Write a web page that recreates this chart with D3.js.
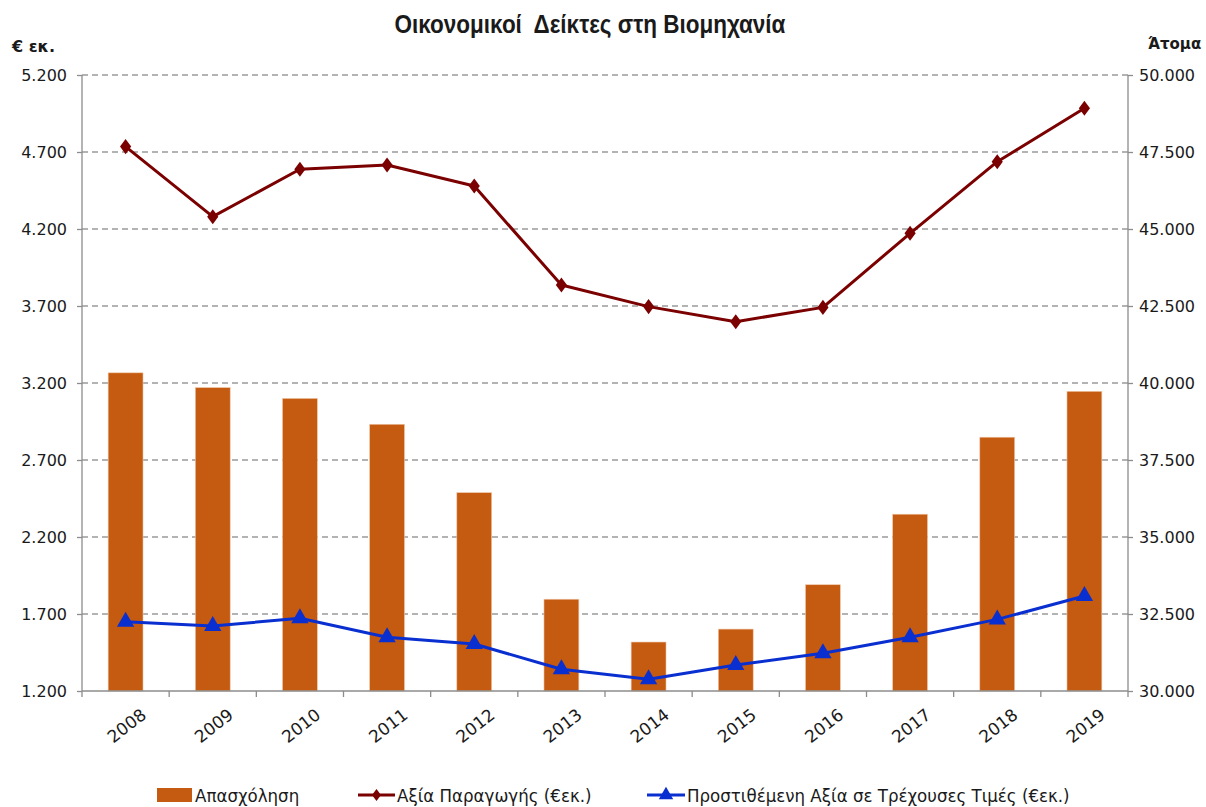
<!DOCTYPE html>
<html>
<head>
<meta charset="utf-8">
<script src="https://cdn.jsdelivr.net/npm/d3@7"></script>
<style>
  body { margin: 0; background: #fff; }
  text { fill: #1a1a1a; }
</style>
</head>
<body>
<script>
var years = ["2008","2009","2010","2011","2012","2013","2014","2015","2016","2017","2018","2019"];
// Απασχόληση (άτομα, δεξής άξονας)
var employment = [40330, 39850, 39500, 38660, 36440, 32980, 31590, 32010, 33450, 35740, 38240, 39730];
// Αξία Παραγωγής (€ εκ.)
var production = [4735, 4280, 4588, 4616, 4479, 3836, 3696, 3598, 3691, 4172, 4637, 4984];
// Προστιθέμενη Αξία σε Τρέχουσες Τιμές (€ εκ.)
var addedValue = [1650, 1622, 1672, 1549, 1505, 1341, 1276, 1369, 1445, 1549, 1665, 1817];

var leftTicks = [1200, 1700, 2200, 2700, 3200, 3700, 4200, 4700, 5200];
var rightTicks = [30000, 32500, 35000, 37500, 40000, 42500, 45000, 47500, 50000];

var width = 1206, height = 807;
var margin = {top: 75, right: 78, bottom: 116, left: 82};
var w = width - margin.left - margin.right;
var h = height - margin.top - margin.bottom;

var fmt = d3.formatLocale({decimal: ",", thousands: ".", grouping: [3], currency: ["€", ""]}).format(",.0f");
var tickFont = "'DejaVu Sans', Verdana, sans-serif";

var svg = d3.select("body").append("svg").attr("width", width).attr("height", height);

var g = svg.append("g").attr("transform", "translate(" + margin.left + "," + margin.top + ")");

var x = d3.scaleBand().domain(years).range([0, w]).paddingInner(0.6).paddingOuter(0.3);
var yL = d3.scaleLinear().domain([1200, 5200]).range([h, 0]);
var yR = d3.scaleLinear().domain([30000, 50000]).range([h, 0]);

// gridlines
g.append("g")
  .selectAll("line")
  .data(leftTicks.slice(1))
  .enter().append("line")
    .attr("x1", 0).attr("x2", w)
    .attr("y1", d => yL(d)).attr("y2", d => yL(d))
    .attr("stroke", "#9a9a9a")
    .attr("stroke-width", 1.3)
    .attr("stroke-dasharray", "6,4");

// bars
g.append("g")
  .selectAll("rect")
  .data(employment)
  .enter().append("rect")
    .attr("x", (d, i) => x(years[i]))
    .attr("width", x.bandwidth())
    .attr("y", d => yR(d))
    .attr("height", d => h - yR(d))
    .attr("fill", "#c55a11")
    .attr("stroke", "#f0c8a8")
    .attr("stroke-width", 0.6);

// axes
var axisColor = "#8c8c8c";
var leftAxis = g.append("g")
  .call(d3.axisLeft(yL).tickValues(leftTicks).tickFormat(fmt).tickSize(5).tickPadding(10));
var rightAxis = g.append("g").attr("transform", "translate(" + w + ",0)")
  .call(d3.axisRight(yR).tickValues(rightTicks).tickFormat(fmt).tickSize(5).tickPadding(6));
var step = x.step();
var boundaries = d3.range(years.length + 1);
var bottomAxis = g.append("g").attr("transform", "translate(0," + h + ")");
bottomAxis.append("line").attr("x1", 0).attr("x2", w).attr("stroke", axisColor).attr("stroke-width", 1.3);
bottomAxis.selectAll(".tk").data(boundaries).enter().append("line")
  .attr("x1", d => d * step).attr("x2", d => d * step)
  .attr("y1", 0).attr("y2", 6)
  .attr("stroke", axisColor).attr("stroke-width", 1.3);
bottomAxis.selectAll("text").data(years).enter().append("text")
  .attr("transform", d => "translate(" + (x(d) + x.bandwidth() / 2 + 14) + ",16) rotate(-38)")
  .attr("text-anchor", "end")
  .attr("dy", "0.75em")
  .style("font-family", tickFont)
  .style("font-size", "17px")
  .text(d => d);

[leftAxis, rightAxis].forEach(function(a) {
  a.select(".domain").attr("stroke", axisColor).attr("stroke-width", 1.3);
  a.selectAll(".tick line").attr("stroke", axisColor).attr("stroke-width", 1.3);
  a.selectAll(".tick text")
    .style("font-family", tickFont)
    .style("font-size", "16px")
    .attr("fill", "#1a1a1a");
});
leftAxis.select(".domain").attr("d", "M0," + h + "V0");
rightAxis.select(".domain").attr("d", "M0," + h + "V0");

// lines
var cx = (d, i) => x(years[i]) + x.bandwidth() / 2;

var prodLine = d3.line().x(cx).y(d => yL(d));
g.append("path")
  .datum(production)
  .attr("fill", "none")
  .attr("stroke", "#7b0000")
  .attr("stroke-width", 3)
  .attr("stroke-linejoin", "round")
  .attr("d", prodLine);
g.append("g")
  .selectAll("path")
  .data(production)
  .enter().append("path")
    .attr("d", d3.symbol().type(d3.symbolDiamond2).size(110))
    .attr("transform", (d, i) => "translate(" + cx(d, i) + "," + yL(d) + ") scale(0.85,1.15)")
    .attr("fill", "#7b0000");

var addLine = d3.line().x(cx).y(d => yL(d));
g.append("path")
  .datum(addedValue)
  .attr("fill", "none")
  .attr("stroke", "#0a2fd0")
  .attr("stroke-width", 3)
  .attr("stroke-linejoin", "round")
  .attr("d", addLine);
g.append("g")
  .selectAll("path")
  .data(addedValue)
  .enter().append("path")
    .attr("transform", (d, i) => "translate(" + cx(d, i) + "," + yL(d) + ")")
    .attr("d", d3.symbol().type(d3.symbolTriangle).size(130))
    .attr("fill", "#0a2fd0");

// titles
svg.append("text")
  .attr("transform", "translate(590,33) scale(0.9,1)")
  .attr("text-anchor", "middle")
  .style("font-family", "'Liberation Sans', Arial, sans-serif")
  .style("font-weight", "bold")
  .style("font-size", "25px")
  .style("white-space", "pre")
  .text("Οικονομικοί  Δείκτες στη Βιομηχανία");

svg.append("text")
  .attr("x", 12).attr("y", 52)
  .style("font-family", tickFont)
  .style("font-weight", "bold")
  .style("font-size", "16px")
  .text("€ εκ.");

svg.append("text")
  .attr("x", 1148).attr("y", 49)
  .style("font-family", tickFont)
  .style("font-weight", "bold")
  .style("font-size", "15px")
  .text("Άτομα");

// legend
var legend = svg.append("g").attr("transform", "translate(0,795)");
var lf = "'DejaVu Sans Condensed', 'DejaVu Sans', sans-serif";
var lsize = "18.5px";
legend.append("rect").attr("x", 157).attr("y", -7).attr("width", 35).attr("height", 14).attr("fill", "#c55a11");
legend.append("text").attr("x", 195).attr("y", 7).style("font-family", lf).style("font-size", lsize).text("Απασχόληση");

legend.append("line").attr("x1", 358).attr("x2", 395).attr("y1", 0).attr("y2", 0).attr("stroke", "#7b0000").attr("stroke-width", 3);
legend.append("path").attr("transform", "translate(376.5,0) scale(0.85,1.15)")
  .attr("d", d3.symbol().type(d3.symbolDiamond2).size(70)).attr("fill", "#7b0000");
legend.append("text").attr("x", 397).attr("y", 7).style("font-family", lf).style("font-size", lsize).text("Αξία Παραγωγής (€εκ.)");

legend.append("line").attr("x1", 647).attr("x2", 685).attr("y1", 0).attr("y2", 0).attr("stroke", "#0a2fd0").attr("stroke-width", 3);
legend.append("path").attr("transform", "translate(666,0)")
  .attr("d", d3.symbol().type(d3.symbolTriangle).size(90)).attr("fill", "#0a2fd0");
legend.append("text").attr("x", 687).attr("y", 7).style("font-family", lf).style("font-size", lsize).text("Προστιθέμενη Αξία σε Τρέχουσες Τιμές (€εκ.)");
</script>
</body>
</html>
